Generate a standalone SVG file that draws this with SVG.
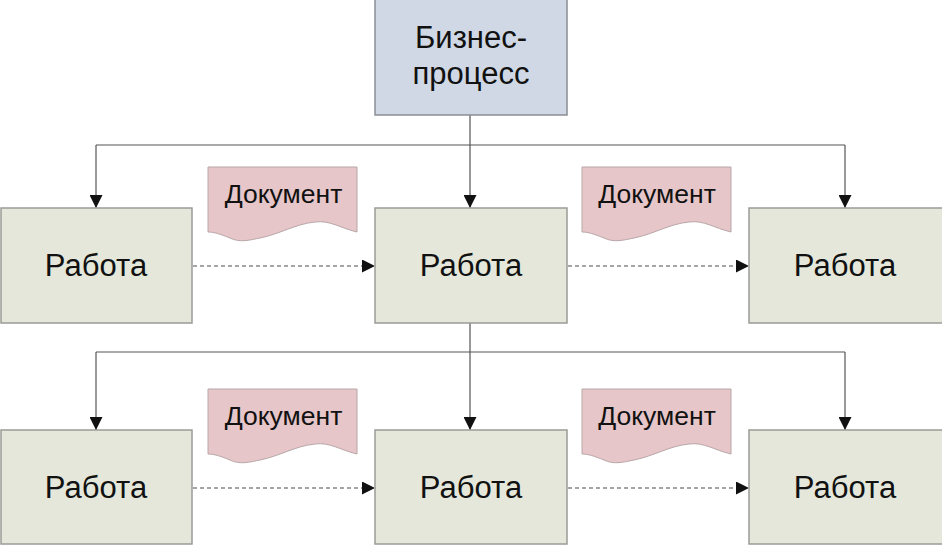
<svg xmlns="http://www.w3.org/2000/svg" width="942" height="546" viewBox="0 0 942 546">
<defs>
<style>
.bp{fill:#cfd8e4;stroke:#8a8e94;stroke-width:1.5}
.job{fill:#e4e7da;stroke:#9a9c96;stroke-width:1.5}
.doc{fill:#e6c6c8;stroke:#b8a6a8;stroke-width:1}
.t{font-family:"Liberation Sans",Arial,sans-serif;fill:#111;text-anchor:middle}
.big{font-size:31px}
.small{font-size:26.5px}
.ln{fill:none;stroke:#555;stroke-width:1.2}
.dash{fill:none;stroke:#888;stroke-width:1.3;stroke-dasharray:4,3}
</style>
<marker id="ah2" viewBox="0 0 12 12" refX="12" refY="6" markerWidth="13" markerHeight="13" markerUnits="userSpaceOnUse" orient="auto">
<path d="M0,0 L12,6 L0,12 Z" fill="#111"/>
</marker>
</defs>
<rect width="942" height="546" fill="#fff"/>
<g id="connectors">
<path class="ln" d="M470,115 V208" marker-end="url(#ah2)"/>
<path class="ln" d="M96,145 H845" />
<path class="ln" d="M96,145 V208" marker-end="url(#ah2)"/>
<path class="ln" d="M845,145 V208" marker-end="url(#ah2)"/>
<path class="ln" d="M470,323 V430" marker-end="url(#ah2)"/>
<path class="ln" d="M96,352 H845" />
<path class="ln" d="M96,352 V430" marker-end="url(#ah2)"/>
<path class="ln" d="M845,352 V430" marker-end="url(#ah2)"/>
<path class="dash" d="M193,266 H375" marker-end="url(#ah2)"/>
<path class="dash" d="M568,266 H749" marker-end="url(#ah2)"/>
<path class="dash" d="M193,488 H375" marker-end="url(#ah2)"/>
<path class="dash" d="M568,488 H749" marker-end="url(#ah2)"/>
</g>
<g id="bp">
<rect class="bp" x="375" y="-1" width="192" height="116"/>
<text class="t big" x="471" y="48">Бизнес-</text>
<text class="t big" x="471" y="84">процесс</text>
</g>
<g id="job1">
<rect class="job" x="1" y="208" width="191" height="115"/>
<text class="t big" x="96" y="276">Работа</text>
</g>
<g id="job2">
<rect class="job" x="375" y="208" width="192" height="115"/>
<text class="t big" x="471" y="276">Работа</text>
</g>
<g id="job3">
<rect class="job" x="749" y="208" width="194" height="115"/>
<text class="t big" x="845" y="276">Работа</text>
</g>
<g id="job4">
<rect class="job" x="1" y="430" width="191" height="114"/>
<text class="t big" x="96" y="498">Работа</text>
</g>
<g id="job5">
<rect class="job" x="375" y="430" width="192" height="114"/>
<text class="t big" x="471" y="498">Работа</text>
</g>
<g id="job6">
<rect class="job" x="749" y="430" width="194" height="114"/>
<text class="t big" x="845" y="498">Работа</text>
</g>
<g id="doc1">
<path class="doc" d="M208,167 H357 V232 C340,228 330,220 315,222 C295,224 280,234 260,238 C250,240 240,243 230,238 C220,234 214,232 208,232 Z"/>
<text class="t small" x="283.5" y="203">Документ</text>
</g>
<g id="doc2">
<path class="doc" d="M582,167 H731 V232 C714,228 704,220 689,222 C669,224 654,234 634,238 C624,240 614,243 604,238 C594,234 588,232 582,232 Z"/>
<text class="t small" x="657" y="203">Документ</text>
</g>
<g id="doc3">
<path class="doc" d="M208,389 H357 V454 C340,450 330,442 315,444 C295,446 280,456 260,460 C250,462 240,465 230,460 C220,456 214,454 208,454 Z"/>
<text class="t small" x="283.5" y="425">Документ</text>
</g>
<g id="doc4">
<path class="doc" d="M582,389 H731 V454 C714,450 704,442 689,444 C669,446 654,456 634,460 C624,462 614,465 604,460 C594,456 588,454 582,454 Z"/>
<text class="t small" x="657" y="425">Документ</text>
</g>
</svg>
